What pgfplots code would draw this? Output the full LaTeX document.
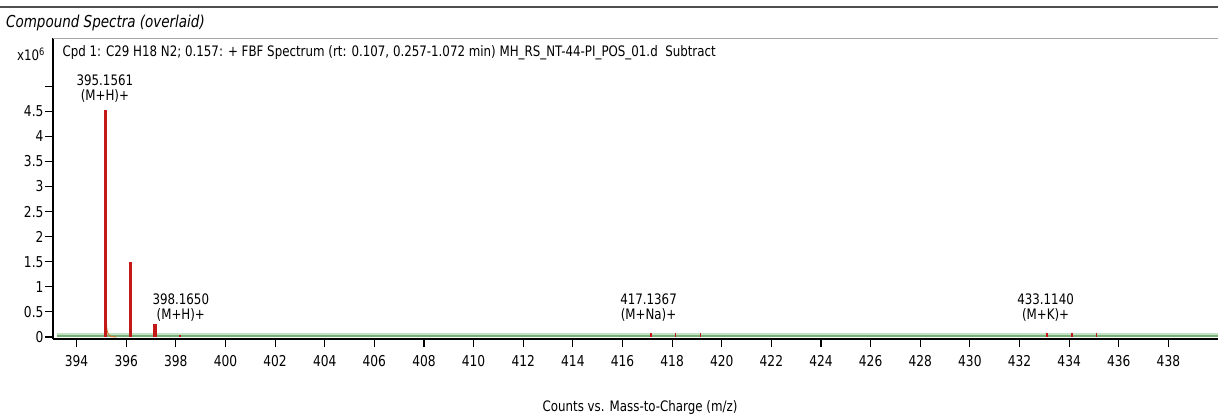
\documentclass[border=0pt]{standalone}
\usepackage{pgfplots}
\pgfplotsset{compat=1.18}
\usepackage{fontspec}
\setmainfont{DejaVu Sans}[FakeStretch=0.82]
\definecolor{peakred}{RGB}{195,25,25}
\definecolor{basegreen}{RGB}{120,175,120}
\definecolor{lightgreen}{RGB}{195,225,195}
\definecolor{rulegray}{RGB}{80,80,80}
\definecolor{tailorange}{RGB}{200,120,40}

\pgfplotstableread{
x y
395.16 4.52
396.16 1.49
397.16 0.26
}\bigpeaks
\pgfplotstableread{
x y
398.17 0.03
417.14 0.07
418.14 0.07
419.14 0.07
433.11 0.07
434.11 0.07
435.11 0.07
}\smallpeaks

\begin{document}
\begin{tikzpicture}[x=1bp,y=1bp]
\useasboundingbox (0,0) rectangle (1218,416);
\draw[rulegray, line width=2.5bp] (0,409) -- (1218,409);
\node[anchor=west, inner sep=0pt, font=\fontsize{16.5}{18}\selectfont\itshape] at (6,393) {Compound Spectra (overlaid)};
\node[anchor=center, inner sep=0pt, font=\fontsize{14.5}{16}\selectfont] at (31,362) {x10\textsuperscript{6}};
\node[anchor=center, inner sep=0pt, font=\fontsize{14.5}{16}\selectfont] at (640,8) {Counts vs. Mass-to-Charge (m/z)};
\begin{axis}[
  at={(53bp,77bp)}, anchor=south west, scale only axis,
  width=1165bp, height=301bp,
  xmin=393.05, xmax=440, ymin=-0.04, ymax=5.96,
  axis x line*=bottom, axis y line*=left,
  axis line style={-, black, line width=1.6bp},
  clip mode=individual,
  xtick={394,396,...,438},
  ytick={0,0.5,1,1.5,2,2.5,3,3.5,4,4.5,5},
  yticklabels={0,0.5,1,1.5,2,2.5,3,3.5,4,4.5,{}},
  tick align=outside,
  major tick length=8bp,
  tick style={black, line width=1.1bp},
  /pgf/number format/assume math mode=true,
  /pgf/number format/1000 sep={},
  ticklabel style={font=\fontsize{15}{17}\selectfont},
  xticklabel style={yshift=-5bp},
  yticklabel style={xshift=2bp},
]
\draw[gray!70, line width=1bp] (rel axis cs:0,1) -- (rel axis cs:1,1);
\addplot[lightgreen, line width=4bp, forget plot] coordinates {(393.2,0.04) (440,0.04)};
\addplot[basegreen, line width=1.5bp, forget plot] coordinates {(393.2,0.02) (440,0.02)};
\addplot[tailorange, line width=1bp] coordinates {(395.19,0.40) (395.22,0.15) (395.28,0.05) (395.4,0.01) (395.6,0.0)};
\addplot[ycomb, peakred, line width=3.3bp] table[x=x, y=y] {\bigpeaks};
\addplot[ycomb, peakred, line width=1.5bp] table[x=x, y=y] {\smallpeaks};
\node[anchor=south, align=center, inner sep=1bp, font=\fontsize{14.5}{15}\selectfont] at (axis cs:395.14,4.66) {395.1561\\(M+H)+};
\node[anchor=south, align=center, inner sep=1bp, font=\fontsize{14.5}{15}\selectfont] at (axis cs:398.2,0.29) {398.1650\\(M+H)+};
\node[anchor=south, align=center, inner sep=1bp, font=\fontsize{14.5}{15}\selectfont] at (axis cs:417.05,0.29) {417.1367\\(M+Na)+};
\node[anchor=south, align=center, inner sep=1bp, font=\fontsize{14.5}{15}\selectfont] at (axis cs:433.05,0.29) {433.1140\\(M+K)+};
\node[anchor=west, inner sep=0pt, font=\fontsize{14.5}{16}\selectfont] at (rel axis cs:0.008,0.95) {Cpd 1: C29 H18 N2; 0.157: + FBF Spectrum (rt: 0.107, 0.257-1.072 min) MH\_RS\_NT-44-PI\_POS\_01.d\ \ Subtract};
\end{axis}
\end{tikzpicture}
\end{document}
